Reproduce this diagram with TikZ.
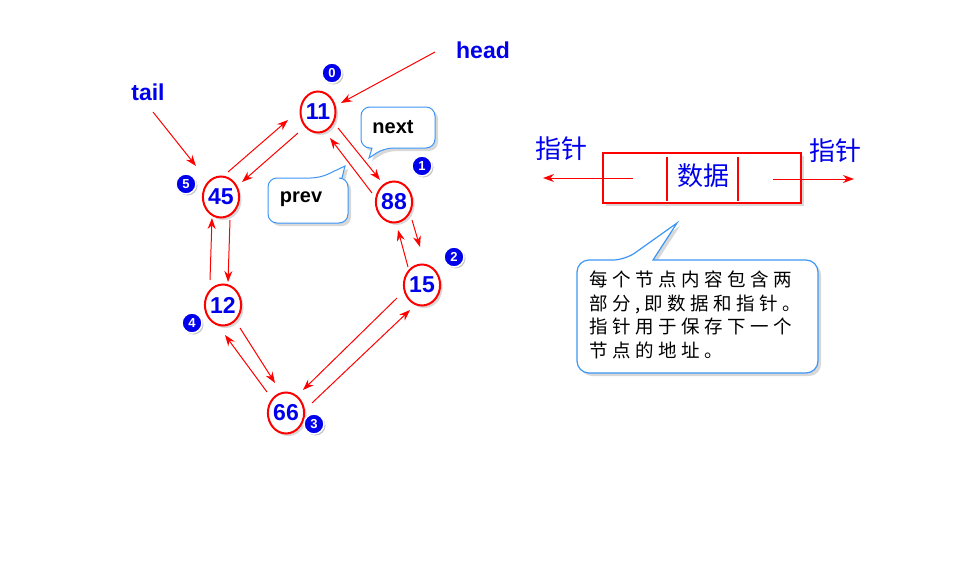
\documentclass[tikz,border=0pt]{standalone}
\usepackage{fontspec}
\setmainfont{Liberation Sans}
\newfontfamily\cjk{Noto Sans CJK SC}
\newfontfamily\cjksp[LetterSpace=24]{Noto Sans CJK SC}
\usetikzlibrary{shapes.geometric,shadows,arrows.meta,calc}
\definecolor{myred}{RGB}{255,0,0}
\definecolor{myblue}{RGB}{0,0,235}
\definecolor{callblue}{RGB}{60,150,245}
\tikzset{
  lnode/.style={ellipse, draw=myred, line width=2pt, fill=white,
    minimum width=35pt, minimum height=41pt, inner sep=0pt,
    font=\fontsize{23}{23}\selectfont\bfseries, text=myblue,
    drop shadow={opacity=0.3, shadow xshift=2.5pt, shadow yshift=-2.5pt}},
  badge/.style={circle, fill=myblue, draw=white, line width=1.5pt,
    minimum size=20pt, inner sep=0pt, text=white,
    font=\fontsize{13}{13}\selectfont\bfseries,
    drop shadow={opacity=0.45, shadow xshift=1.5pt, shadow yshift=-1.5pt}},
  arr/.style={draw=myred, line width=1pt, -{Stealth[length=11pt,width=8pt]}},
  ptrlabel/.style={text=myblue, font=\fontsize{23}{23}\selectfont\bfseries},
  callout/.style={draw=callblue, line width=1pt, fill=white,
    drop shadow={opacity=0.3, shadow xshift=3pt, shadow yshift=-3pt}},
  calltext/.style={text=black, font=\fontsize{20}{20}\selectfont\bfseries},
  cjklabel/.style={text=myblue, font=\cjk\fontsize{26}{26}\selectfont}
}
\begin{document}
\begin{tikzpicture}[x=1pt, y=-1pt]
\useasboundingbox (0,0) rectangle (966,586);
\fill[white] (0,0) rectangle (966,586);

% callouts
\draw[callout] (361,128) [rounded corners=9pt] -- (361,107) -- (435,107) -- (435,148) -- (384,148) [sharp corners] -- (369,158) -- (372,148) [rounded corners=9pt] -- (361,148) -- cycle;
\node[calltext] (nexttxt) at (393,127) {next};

\draw[callout] (268,200) [rounded corners=9pt] -- (268,178) -- (320,178) [sharp corners] -- (345,166) -- (342,178) [rounded corners=9pt] -- (348,178) -- (348,223) -- (268,223) -- cycle;
\node[calltext] (prevtxt) at (301,199) {prev};

% list nodes
\node[lnode] (n11) at (318,112) {11};
\node[lnode] (n45) at (221,197) {45};
\node[lnode] (n88) at (394,202) {88};
\node[lnode] (n15) at (422,285) {15};
\node[lnode] (n12) at (223,305) {12};
\node[lnode] (n66) at (286,413) {66};

% badges
\node[badge] (b0) at (332,73) {0};
\node[badge] (b1) at (422,166) {1};
\node[badge] (b5) at (186,184) {5};
\node[badge] (b2) at (454,257) {2};
\node[badge] (b4) at (192,323) {4};
\node[badge] (b3) at (314,424) {3};

% head / tail
\node[ptrlabel] (head) at (483,50) {head};
\node[ptrlabel] (tail) at (148,92) {tail};
\draw[arr] ($(head)+(-48,2)$) -- ($(n11)+(23,-9)$);
\draw[arr] ($(tail)+(5,20)$) -- ($(n45)+(-25,-31)$);

% links
\draw[arr] ($(n45)+(7,-25)$) -- ($(n11)+(-30,8)$);
\draw[arr] ($(n11)+(-20,21)$) -- ($(n45)+(21,-15)$);
\draw[arr] ($(n11)+(20,16)$) -- ($(n88)+(-14,-22)$);
\draw[arr] ($(n88)+(-22,-9)$) -- ($(n11)+(12,26)$);
\draw[arr] ($(n88)+(18,18)$) -- ($(n15)+(-2,-38)$);
\draw[arr] ($(n15)+(-14,-18)$) -- ($(n88)+(4,28)$);
\draw[arr] ($(n45)+(9,23)$) -- ($(n12)+(5,-23)$);
\draw[arr] ($(n12)+(-13,-25)$) -- ($(n45)+(-9,21)$);
\draw[arr] ($(n12)+(17,23)$) -- ($(n66)+(-11,-30)$);
\draw[arr] ($(n66)+(-19,-21)$) -- ($(n12)+(2,30)$);
\draw[arr] ($(n15)+(-25,13)$) -- ($(n66)+(17,-23)$);
\draw[arr] ($(n66)+(26,-10)$) -- ($(n15)+(-12,25)$);

% data box
\node[draw=myred, line width=2pt, fill=white, minimum width=198pt, minimum height=50pt,
      drop shadow={opacity=0.3, shadow xshift=3pt, shadow yshift=-3pt}] (dbox) at (702,178) {};
\draw[myred, line width=2pt] ($(dbox)+(-35,-21)$) -- ($(dbox)+(-35,23)$);
\draw[myred, line width=2pt] ($(dbox)+(36,-21)$) -- ($(dbox)+(36,23)$);
\node[cjklabel] (data) at (703,176) {数据};
\node[cjklabel] (pl) at (561,149) {指针};
\node[cjklabel] (pr) at (835,151) {指针};
\coordinate (lend) at (543,178);
\coordinate (rend) at (854,179);
\draw[arr] ($(dbox)+(-69,0)$) -- (lend);
\draw[arr] ($(dbox)+(71,1)$) -- (rend);

% big callout
\draw[callout, line width=1.2pt] (577,310) [rounded corners=12pt] -- (577,260) -- (625,260) [sharp corners] -- (677,223) -- (653,260) [rounded corners=12pt] -- (818,260) -- (818,373) -- (577,373) -- cycle;
\node[anchor=west, align=left, font=\cjksp\fontsize{18.5}{23.5}\selectfont] (ctext) at (586,315)
  {每个节点内容包含两\\部分,即数据和指针。\\指针用于保存下一个\\节点的地址。};
\end{tikzpicture}
\end{document}
